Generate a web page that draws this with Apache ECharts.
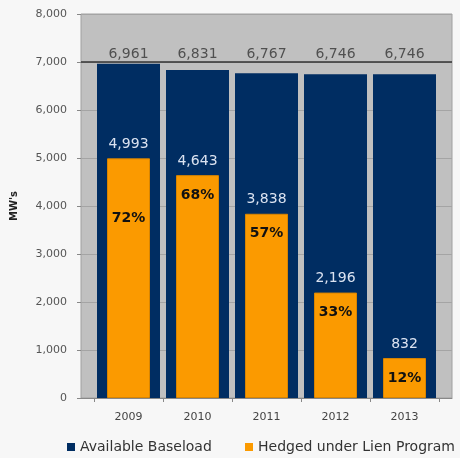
<!DOCTYPE html>
<html>
<head>
<meta charset="utf-8">
<script src="https://cdn.jsdelivr.net/npm/echarts@6/dist/echarts.min.js"></script>
<style>
  html, body { margin: 0; padding: 0; background: #f7f7f7; }
  #chart { width: 460px; height: 458px; }
</style>
</head>
<body>
<div id="chart"></div>
<script>
// chart data
const years = ['2009', '2010', '2011', '2012', '2013']
const baseload = [6961, 6831, 6767, 6746, 6746]
const hedged = [4993, 4643, 3838, 2196, 832]
const hedgedPct = ['72%', '68%', '57%', '33%', '12%']
const yTicks = [0, 1000, 2000, 3000, 4000, 5000, 6000, 7000, 8000]

const fmt = v => v.toLocaleString('en-US')
const font = 'DejaVu Sans'
const yMin = yTicks[0]
const yMax = yTicks[yTicks.length - 1]

const chart = echarts.init(document.getElementById('chart'))

const legendBase = {
  top: 440,
  padding: 0,
  icon: 'rect',
  itemWidth: 8,
  itemHeight: 8,
  itemStyle: { borderWidth: 0 },
  textStyle: { fontFamily: font, fontSize: 14, color: '#333' }
}

chart.setOption({
  backgroundColor: '#f7f7f7',
  animation: false,
  textStyle: { fontFamily: font },
  grid: [
    // gray plot panel with the value axis
    {
      left: 81, right: 8, top: 14, bottom: 60,
      show: true,
      backgroundColor: '#c0c0c0',
      borderColor: '#a0a0a0',
      borderWidth: 1
    },
    // bars sit a little inside the panel
    { left: 94, right: 21, top: 14, bottom: 60 }
  ],
  legend: [
    Object.assign({ data: ['Available Baseload'], left: 67 }, legendBase),
    Object.assign({ data: ['Hedged under Lien Program'], left: 245 }, legendBase)
  ],
  xAxis: [
    {
      type: 'value',
      gridIndex: 0,
      min: 0,
      max: 1,
      axisLine: { show: true, onZero: false, lineStyle: { color: '#888' } },
      axisTick: { show: false },
      axisLabel: { show: false },
      splitLine: { show: false }
    },
    {
      type: 'category',
      gridIndex: 1,
      data: years,
      axisLine: { show: false },
      axisTick: { show: true, length: 4, lineStyle: { color: '#888' } },
      axisLabel: { color: '#444', fontSize: 11, margin: 14, fontFamily: font }
    },
    {
      type: 'category',
      gridIndex: 1,
      data: years,
      show: false
    }
  ],
  yAxis: [
    {
      type: 'value',
      gridIndex: 0,
      min: yMin,
      max: yMax,
      interval: 1000,
      name: "MW's",
      nameLocation: 'middle',
      nameGap: 62,
      nameRotate: 90,
      nameTextStyle: { fontSize: 10, fontWeight: 'bold', color: '#222', fontFamily: font },
      axisLine: { show: false },
      axisTick: { show: true, length: 4, lineStyle: { color: '#888' } },
      axisLabel: { color: '#555', fontSize: 11, margin: 14, fontFamily: font, formatter: fmt },
      splitLine: { lineStyle: { color: '#a4a4a4', width: 1 } }
    },
    {
      type: 'value',
      gridIndex: 1,
      min: yMin,
      max: yMax,
      show: false,
      splitLine: { show: false }
    }
  ],
  series: [
    {
      name: 'limit',
      type: 'line',
      xAxisIndex: 0,
      yAxisIndex: 0,
      data: [],
      silent: true,
      markLine: {
        silent: true,
        symbol: 'none',
        label: { show: false },
        lineStyle: { color: '#333', type: 'solid', width: 1.5 },
        data: [{ yAxis: 7000 }]
      }
    },
    {
      name: 'Available Baseload',
      type: 'bar',
      xAxisIndex: 1,
      yAxisIndex: 1,
      data: baseload,
      barWidth: 63,
      itemStyle: { color: '#002d62' }
    },
    {
      name: 'Hedged under Lien Program',
      type: 'bar',
      xAxisIndex: 2,
      yAxisIndex: 1,
      data: hedged,
      barWidth: 43,
      barGap: '-100%',
      itemStyle: { color: '#fb9a00', borderColor: '#d98500', borderWidth: 1 },
      label: {
        show: true,
        position: 'top',
        distance: 7,
        color: '#dbe3f1',
        fontSize: 14,
        fontFamily: font,
        formatter: p => fmt(p.value)
      }
    },
    {
      name: 'pct',
      type: 'bar',
      xAxisIndex: 2,
      yAxisIndex: 1,
      data: hedged.map((v, i) => ({
        value: v,
        label: i === 0 ? { offset: [0, 40] } : {}
      })),
      barWidth: 43,
      barGap: '-100%',
      silent: true,
      itemStyle: { color: 'rgba(0,0,0,0)' },
      label: {
        show: true,
        position: 'insideTop',
        distance: 13,
        color: '#111',
        fontSize: 14,
        fontWeight: 'bold',
        fontFamily: font,
        formatter: p => hedgedPct[p.dataIndex]
      }
    },
    {
      name: 'totals',
      type: 'scatter',
      xAxisIndex: 1,
      yAxisIndex: 1,
      data: years.map(y => [y, 7000]),
      symbolSize: 0,
      silent: true,
      label: {
        show: true,
        position: 'top',
        distance: 1,
        color: '#333',
        fontSize: 14,
        fontFamily: font,
        formatter: p => fmt(baseload[p.dataIndex])
      }
    }
  ]
})
</script>
</body>
</html>
